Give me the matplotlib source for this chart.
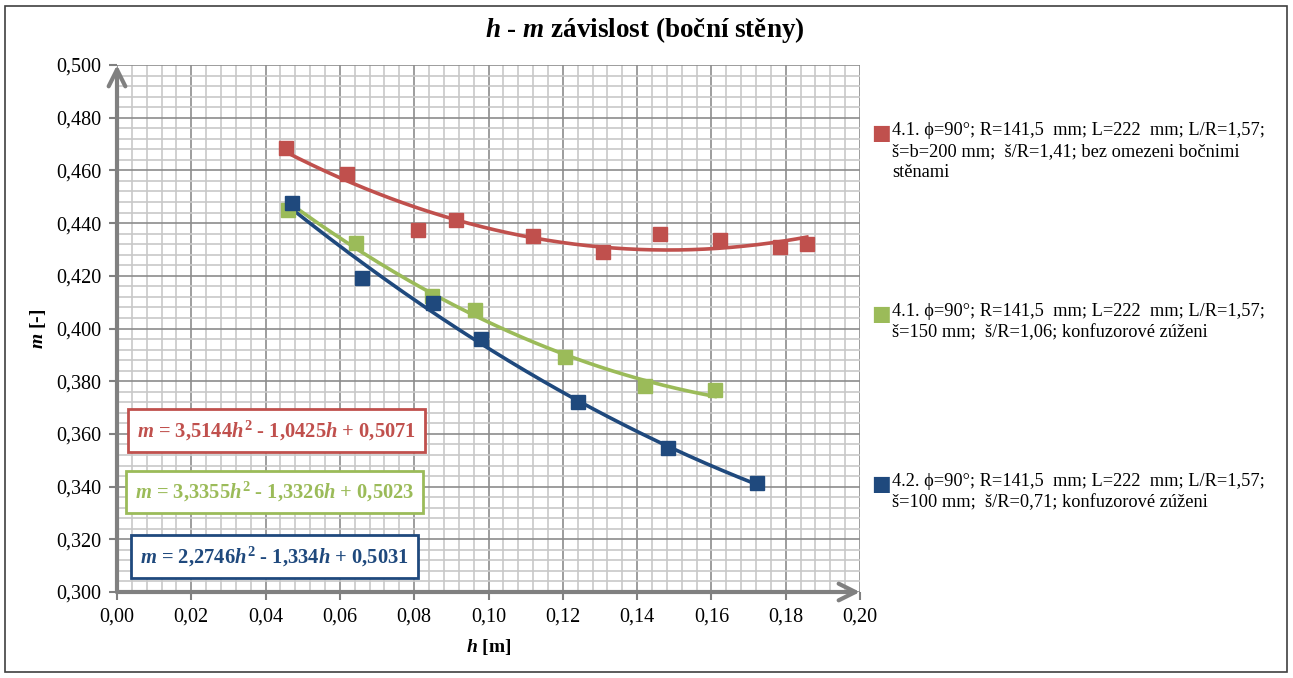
"""
Recreate the h - m dependence chart (side walls) with quadratic trend lines.
"""

import numpy as np
import matplotlib.pyplot as plt
from matplotlib.patches import Rectangle
from matplotlib.ticker import MultipleLocator, FuncFormatter

# --- Data ---
H_RED = [0.0455, 0.0619, 0.0810, 0.0912, 0.1120, 0.1308, 0.1462, 0.1623, 0.1785, 0.1857]
M_RED = [0.4685, 0.4585, 0.4375, 0.4410, 0.4350, 0.4290, 0.4360, 0.4335, 0.4310, 0.4320]

H_GREEN = [0.0460, 0.0643, 0.0848, 0.0964, 0.1206, 0.1421, 0.1610]
M_GREEN = [0.4450, 0.4325, 0.4125, 0.4070, 0.3890, 0.3780, 0.3765]

H_BLUE = [0.0470, 0.0660, 0.0850, 0.0980, 0.1241, 0.1483, 0.1723]
M_BLUE = [0.4475, 0.4190, 0.4095, 0.3960, 0.3720, 0.3545, 0.3415]

# trend line coefficients shown in the boxes (a*h^2 + b*h + c)
COEF_RED = [3.5144, -1.0425, 0.5071]
COEF_GREEN = [3.3355, -1.3326, 0.5023]
COEF_BLUE = [2.2746, -1.334, 0.5031]

EQ_RED = r"$m$ = 3,5144$h^2$ - 1,0425$h$ + 0,5071"
EQ_GREEN = r"$m$ = 3,3355$h^2$ - 1,3326$h$ + 0,5023"
EQ_BLUE = r"$m$ = 2,2746$h^2$ - 1,334$h$ + 0,5031"

LABELS = [
    "4.1. ϕ=90°; R=141,5  mm; L=222  mm; L/R=1,57;\nš=b=200 mm;  š/R=1,41; bez omezeni bočnimi\nstěnami",
    "4.1. ϕ=90°; R=141,5  mm; L=222  mm; L/R=1,57;\nš=150 mm;  š/R=1,06; konfuzorové zúženi",
    "4.2. ϕ=90°; R=141,5  mm; L=222  mm; L/R=1,57;\nš=100 mm;  š/R=0,71; konfuzorové zúženi",
]

RED = "#C0504D"
GREEN = "#9BBB59"
BLUE = "#1F497D"

plt.rcParams["font.family"] = ["Liberation Serif", "DejaVu Serif"]
plt.rcParams["mathtext.fontset"] = "custom"
plt.rcParams["mathtext.rm"] = "Liberation Serif:bold"
plt.rcParams["mathtext.it"] = "Liberation Serif:bold:italic"
plt.rcParams["mathtext.bf"] = "Liberation Serif:bold"


def comma_fmt(decimals):
    return FuncFormatter(lambda v, pos: f"{v:.{decimals}f}".replace(".", ","))


def main():
    fig = plt.figure(figsize=(12.93, 6.78), dpi=100)
    ax = fig.add_axes([117 / 1293, 1 - 592 / 678, (860 - 117) / 1293, (592 - 65) / 678])

    # outer frame
    fig.patches.append(Rectangle((5 / 1293, 6 / 678), 1282 / 1293, 666 / 678,
                                 transform=fig.transFigure, fill=False,
                                 edgecolor="#404040", linewidth=1.2))

    ax.set_xlim(0, 0.2)
    ax.set_ylim(0.3, 0.5)
    ax.xaxis.set_major_locator(MultipleLocator(0.02))
    ax.xaxis.set_minor_locator(MultipleLocator(0.004))
    ax.yaxis.set_major_locator(MultipleLocator(0.02))
    ax.yaxis.set_minor_locator(MultipleLocator(0.004))
    ax.xaxis.set_major_formatter(comma_fmt(2))
    ax.yaxis.set_major_formatter(comma_fmt(3))

    ax.grid(which="minor", color="#C8C8C8", linewidth=1.2, zorder=0)
    ax.grid(which="major", color="#8C8C8C", linewidth=1.2, zorder=0)
    ax.set_axisbelow(True)

    for side in ["top", "right", "left", "bottom"]:
        ax.spines[side].set_visible(False)

    ax.tick_params(which="minor", length=0)
    ax.tick_params(which="major", length=6, width=1.5, color="#808080",
                   labelsize=14.5, pad=5)

    # axis lines with arrows
    arrow = dict(arrowstyle="->", color="#808080", lw=3, mutation_scale=30,
                 shrinkA=0, shrinkB=0)
    ax.annotate("", xy=(0, 1), xytext=(0, 0), xycoords="axes fraction",
                arrowprops=arrow, annotation_clip=False)
    ax.annotate("", xy=(1, 0), xytext=(0, 0), xycoords="axes fraction",
                arrowprops=arrow, annotation_clip=False)

    series = [
        (H_RED, M_RED, COEF_RED, RED, LABELS[0]),
        (H_GREEN, M_GREEN, COEF_GREEN, GREEN, LABELS[1]),
        (H_BLUE, M_BLUE, COEF_BLUE, BLUE, LABELS[2]),
    ]
    handles = []
    for h, m, coef, color, label in series:
        hh = np.linspace(min(h), max(h), 200)
        ax.plot(hh, np.polyval(coef, hh), color=color, linewidth=2.6, zorder=3)
        pts, = ax.plot(h, m, linestyle="none", marker="s", markersize=10,
                       color=color, label=label, zorder=4)
        handles.append(pts)

    # equation boxes
    for txt, color, y, x in [(EQ_RED, RED, 0.306, 0.215), (EQ_GREEN, GREEN, 0.190, 0.212),
                             (EQ_BLUE, BLUE, 0.067, 0.212)]:
        ax.text(x, y, txt, transform=ax.transAxes, ha="center", va="center",
                fontsize=14.8, fontweight="bold", color=color, zorder=5,
                bbox=dict(boxstyle="square,pad=0.45", facecolor="white",
                          edgecolor=color, linewidth=2))

    ax.set_xlabel(r"$h$ [m]", fontsize=14, fontweight="bold", labelpad=8)
    ax.set_ylabel(r"$m$ [-]", fontsize=14, fontweight="bold", labelpad=6)

    fig.text(645 / 1293, 1 - 30 / 678, r"$h$ - $m$ závislost (boční stěny)",
             ha="center", va="center", fontsize=19.5, fontweight="bold")

    # legend entries placed individually like the original
    for handle, y in zip(handles, [133, 314, 484]):
        fig.text(881 / 1293, 1 - y / 678, "■", color=handle.get_color(),
                 fontsize=15, ha="center", va="center", family="DejaVu Sans")
        fig.text(892 / 1293, 1 - (y - 11) / 678, handle.get_label(),
                 ha="left", va="top", fontsize=13.2, linespacing=1.3)

    fig.savefig("out.png", dpi=100)


if __name__ == "__main__":
    main()
